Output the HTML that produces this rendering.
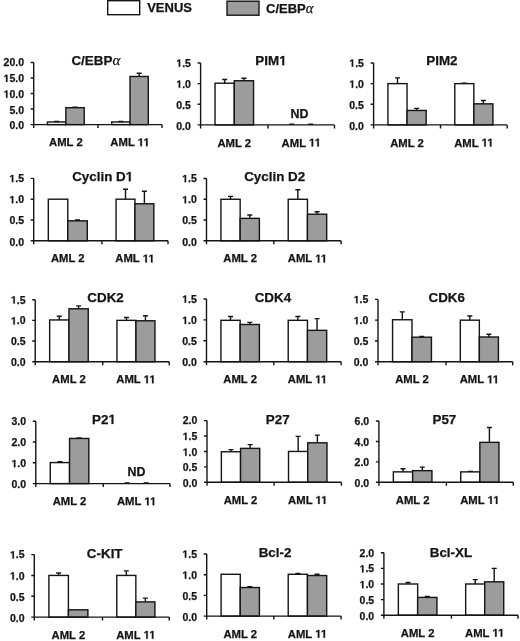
<!DOCTYPE html>
<html><head><meta charset="utf-8"><style>
html,body{margin:0;padding:0;background:#fff;width:520px;height:641px;overflow:hidden}
svg{display:block;will-change:transform;filter:blur(0.35px)}
text{font-family:"Liberation Sans",sans-serif;font-weight:bold;fill:#141414;stroke:#141414;stroke-width:0.25px}
.tk{font-size:10.5px;text-anchor:end}
.xl{font-size:11.3px;text-anchor:middle}
.nd{font-size:12.4px;text-anchor:middle}
.ti{font-size:13.4px;text-anchor:middle}
.ts{text-anchor:start}
.lg{font-size:13px}
.o{fill:transparent;stroke:transparent}
.al{font-family:"Liberation Serif",serif;font-weight:normal;font-style:italic;font-size:1.12em}
</style></head><body>
<svg width="520" height="641" viewBox="0 0 520 641">
<rect x="107.7" y="0.7" width="32" height="14" fill="#fff" stroke="#141414" stroke-width="1.4"/>
<text x="147.2" y="11.8" class="lg">VENUS</text>
<rect x="227" y="1.2" width="32" height="14" fill="#9c9c9c" stroke="#141414" stroke-width="1.4"/>
<text x="266" y="12.6" class="lg">C/EBP<tspan class="al">&#945;</tspan></text>
<rect x="47.48" y="121.96" width="18.37" height="2.64" fill="#fff" stroke="#141414" stroke-width="1.4"/>
<path d="M56.66 121.96V121.49M54.16 121.49H59.16" stroke="#141414" stroke-width="1.4" fill="none"/>
<rect x="65.85" y="107.68" width="18.37" height="16.92" fill="#9c9c9c" stroke="#141414" stroke-width="1.4"/>
<path d="M75.04 107.68V107.21M72.54 107.21H77.54" stroke="#141414" stroke-width="1.4" fill="none"/>
<rect x="111.71" y="121.96" width="18.29" height="2.64" fill="#fff" stroke="#141414" stroke-width="1.4"/>
<path d="M120.86 121.96V121.49M118.36 121.49H123.36" stroke="#141414" stroke-width="1.4" fill="none"/>
<rect x="130" y="76.47" width="18.29" height="48.13" fill="#9c9c9c" stroke="#141414" stroke-width="1.4"/>
<path d="M139.14 76.47V73.21M136.64 73.21H141.64" stroke="#141414" stroke-width="1.4" fill="none"/>
<path d="M33.7 62.5V128.1M30.7 62.5H33.7M30.7 78.03H33.7M30.7 93.55H33.7M30.7 109.07H33.7M30.7 124.6H33.7M33.7 124.6H162M98 124.6V128.1M162 124.6V128.1" stroke="#141414" stroke-width="1.4" fill="none"/>
<text x="24" y="129.3" class="tk">0.0</text>
<text x="24" y="113.55" class="tk">5.0</text>
<text x="24" y="97.8" class="tk"><tspan class="o">1</tspan>0.0</text>
<text x="24" y="82.05" class="tk"><tspan class="o">1</tspan>5.0</text>
<text x="24" y="66.3" class="tk">20.0</text>
<text x="65.85" y="146.2" class="xl">AML 2</text>
<text x="130" y="146.2" class="xl">AML <tspan class="o">1</tspan><tspan class="o">1</tspan></text>
<text x="95.85" y="65.2" class="ti">C/EBP<tspan class="al">&#945;</tspan></text>
<rect x="215.04" y="83.22" width="19.26" height="41.68" fill="#fff" stroke="#141414" stroke-width="1.4"/>
<path d="M224.67 83.22V79.51M222.17 79.51H227.17" stroke="#141414" stroke-width="1.4" fill="none"/>
<rect x="234.3" y="80.74" width="19.26" height="44.16" fill="#9c9c9c" stroke="#141414" stroke-width="1.4"/>
<path d="M243.93 80.74V78.27M241.43 78.27H246.43" stroke="#141414" stroke-width="1.4" fill="none"/>
<path d="M289.25 124.2H294.25" stroke="#141414" stroke-width="1.4" fill="none"/>
<path d="M308.25 124.2H313.25" stroke="#141414" stroke-width="1.4" fill="none"/>
<path d="M200.6 63V128.4M197.6 63H200.6M197.6 83.63H200.6M197.6 104.27H200.6M197.6 124.9H200.6M200.6 124.9H334.5M268 124.9V128.4M334.5 124.9V128.4" stroke="#141414" stroke-width="1.4" fill="none"/>
<text x="190.9" y="129.6" class="tk">0.0</text>
<text x="190.9" y="108.67" class="tk">0.5</text>
<text x="190.9" y="87.73" class="tk"><tspan class="o">1</tspan>.0</text>
<text x="190.9" y="66.8" class="tk"><tspan class="o">1</tspan>.5</text>
<text x="234.3" y="146.5" class="xl">AML 2</text>
<text x="301.25" y="146.5" class="xl">AML <tspan class="o">1</tspan><tspan class="o">1</tspan></text>
<text x="299.4" y="118" class="nd">ND</text>
<text x="271" y="65.3" class="ti">PIM<tspan class="o">1</tspan></text>
<rect x="387.94" y="83.63" width="19.11" height="41.27" fill="#fff" stroke="#141414" stroke-width="1.4"/>
<path d="M397.49 83.63V77.86M394.99 77.86H399.99" stroke="#141414" stroke-width="1.4" fill="none"/>
<rect x="407.05" y="110.46" width="19.11" height="14.44" fill="#9c9c9c" stroke="#141414" stroke-width="1.4"/>
<path d="M416.61 110.46V108.39M414.11 108.39H419.11" stroke="#141414" stroke-width="1.4" fill="none"/>
<rect x="454.79" y="83.63" width="19.06" height="41.27" fill="#fff" stroke="#141414" stroke-width="1.4"/>
<path d="M464.32 83.63V83.22M461.82 83.22H466.82" stroke="#141414" stroke-width="1.4" fill="none"/>
<rect x="473.85" y="103.85" width="19.06" height="21.05" fill="#9c9c9c" stroke="#141414" stroke-width="1.4"/>
<path d="M483.38 103.85V100.55M480.88 100.55H485.88" stroke="#141414" stroke-width="1.4" fill="none"/>
<path d="M373.6 63V128.4M370.6 63H373.6M370.6 83.63H373.6M370.6 104.27H373.6M370.6 124.9H373.6M373.6 124.9H507.2M440.5 124.9V128.4M507.2 124.9V128.4" stroke="#141414" stroke-width="1.4" fill="none"/>
<text x="363.9" y="129.6" class="tk">0.0</text>
<text x="363.9" y="108.67" class="tk">0.5</text>
<text x="363.9" y="87.73" class="tk"><tspan class="o">1</tspan>.0</text>
<text x="363.9" y="66.8" class="tk"><tspan class="o">1</tspan>.5</text>
<text x="407.05" y="146.5" class="xl">AML 2</text>
<text x="473.85" y="146.5" class="xl">AML <tspan class="o">1</tspan><tspan class="o">1</tspan></text>
<text x="441.95" y="65.1" class="ti">PIM2</text>
<rect x="48.31" y="199.2" width="19.49" height="41.6" fill="#fff" stroke="#141414" stroke-width="1.4"/>
<rect x="67.8" y="220.83" width="19.49" height="19.97" fill="#9c9c9c" stroke="#141414" stroke-width="1.4"/>
<path d="M77.54 220.83V220M75.04 220H80.04" stroke="#141414" stroke-width="1.4" fill="none"/>
<rect x="116.06" y="199.2" width="18.89" height="41.6" fill="#fff" stroke="#141414" stroke-width="1.4"/>
<path d="M125.51 199.2V189.22M123.01 189.22H128.01" stroke="#141414" stroke-width="1.4" fill="none"/>
<rect x="134.95" y="203.78" width="18.89" height="37.02" fill="#9c9c9c" stroke="#141414" stroke-width="1.4"/>
<path d="M144.39 203.78V191.3M141.89 191.3H146.89" stroke="#141414" stroke-width="1.4" fill="none"/>
<path d="M33.7 178.4V244.3M30.7 178.4H33.7M30.7 199.2H33.7M30.7 220H33.7M30.7 240.8H33.7M33.7 240.8H168M101.9 240.8V244.3M168 240.8V244.3" stroke="#141414" stroke-width="1.4" fill="none"/>
<text x="24" y="245.5" class="tk">0.0</text>
<text x="24" y="224.4" class="tk">0.5</text>
<text x="24" y="203.3" class="tk"><tspan class="o">1</tspan>.0</text>
<text x="24" y="182.2" class="tk"><tspan class="o">1</tspan>.5</text>
<text x="67.8" y="262.4" class="xl">AML 2</text>
<text x="134.95" y="262.4" class="xl">AML <tspan class="o">1</tspan><tspan class="o">1</tspan></text>
<text x="102.65" y="181.2" class="ti">Cyclin D<tspan class="o">1</tspan></text>
<rect x="220.92" y="199.27" width="19.23" height="41.53" fill="#fff" stroke="#141414" stroke-width="1.4"/>
<path d="M230.54 199.27V196.36M228.04 196.36H233.04" stroke="#141414" stroke-width="1.4" fill="none"/>
<rect x="240.15" y="218.37" width="19.23" height="22.43" fill="#9c9c9c" stroke="#141414" stroke-width="1.4"/>
<path d="M249.76 218.37V215.05M247.26 215.05H252.26" stroke="#141414" stroke-width="1.4" fill="none"/>
<rect x="288.22" y="199.27" width="19.23" height="41.53" fill="#fff" stroke="#141414" stroke-width="1.4"/>
<path d="M297.84 199.27V189.71M295.34 189.71H300.34" stroke="#141414" stroke-width="1.4" fill="none"/>
<rect x="307.45" y="214.22" width="19.23" height="26.58" fill="#9c9c9c" stroke="#141414" stroke-width="1.4"/>
<path d="M317.06 214.22V211.73M314.56 211.73H319.56" stroke="#141414" stroke-width="1.4" fill="none"/>
<path d="M206.5 178.5V244.3M203.5 178.5H206.5M203.5 199.27H206.5M203.5 220.03H206.5M203.5 240.8H206.5M206.5 240.8H341.1M273.8 240.8V244.3M341.1 240.8V244.3" stroke="#141414" stroke-width="1.4" fill="none"/>
<text x="196.8" y="245.5" class="tk">0.0</text>
<text x="196.8" y="224.43" class="tk">0.5</text>
<text x="196.8" y="203.37" class="tk"><tspan class="o">1</tspan>.0</text>
<text x="196.8" y="182.3" class="tk"><tspan class="o">1</tspan>.5</text>
<text x="240.15" y="262.4" class="xl">AML 2</text>
<text x="307.45" y="262.4" class="xl">AML <tspan class="o">1</tspan><tspan class="o">1</tspan></text>
<text x="274.7" y="181.2" class="ti">Cyclin D2</text>
<rect x="49.66" y="319.95" width="19.29" height="41.75" fill="#fff" stroke="#141414" stroke-width="1.4"/>
<path d="M59.31 319.95V316.23M56.81 316.23H61.81" stroke="#141414" stroke-width="1.4" fill="none"/>
<rect x="68.95" y="308.79" width="19.29" height="52.91" fill="#9c9c9c" stroke="#141414" stroke-width="1.4"/>
<path d="M78.59 308.79V305.9M76.09 305.9H81.09" stroke="#141414" stroke-width="1.4" fill="none"/>
<rect x="116.95" y="320.37" width="19" height="41.33" fill="#fff" stroke="#141414" stroke-width="1.4"/>
<path d="M126.45 320.37V317.47M123.95 317.47H128.95" stroke="#141414" stroke-width="1.4" fill="none"/>
<rect x="135.95" y="320.78" width="19" height="40.92" fill="#9c9c9c" stroke="#141414" stroke-width="1.4"/>
<path d="M145.45 320.78V315.82M142.95 315.82H147.95" stroke="#141414" stroke-width="1.4" fill="none"/>
<path d="M35.2 299.7V365.2M32.2 299.7H35.2M32.2 320.37H35.2M32.2 341.03H35.2M32.2 361.7H35.2M35.2 361.7H169.2M102.7 361.7V365.2M169.2 361.7V365.2" stroke="#141414" stroke-width="1.4" fill="none"/>
<text x="25.5" y="366.4" class="tk">0.0</text>
<text x="25.5" y="345.43" class="tk">0.5</text>
<text x="25.5" y="324.47" class="tk"><tspan class="o">1</tspan>.0</text>
<text x="25.5" y="303.5" class="tk"><tspan class="o">1</tspan>.5</text>
<text x="68.95" y="383.3" class="xl">AML 2</text>
<text x="135.95" y="383.3" class="xl">AML <tspan class="o">1</tspan><tspan class="o">1</tspan></text>
<text x="105.55" y="302.1" class="ti">CDK2</text>
<rect x="220.92" y="320.32" width="19.23" height="41.38" fill="#fff" stroke="#141414" stroke-width="1.4"/>
<path d="M230.54 320.32V316.56M228.04 316.56H233.04" stroke="#141414" stroke-width="1.4" fill="none"/>
<rect x="240.15" y="324.5" width="19.23" height="37.2" fill="#9c9c9c" stroke="#141414" stroke-width="1.4"/>
<path d="M249.76 324.5V322.41M247.26 322.41H252.26" stroke="#141414" stroke-width="1.4" fill="none"/>
<rect x="288.22" y="320.32" width="19.23" height="41.38" fill="#fff" stroke="#141414" stroke-width="1.4"/>
<path d="M297.84 320.32V316.56M295.34 316.56H300.34" stroke="#141414" stroke-width="1.4" fill="none"/>
<rect x="307.45" y="330.35" width="19.23" height="31.35" fill="#9c9c9c" stroke="#141414" stroke-width="1.4"/>
<path d="M317.06 330.35V318.65M314.56 318.65H319.56" stroke="#141414" stroke-width="1.4" fill="none"/>
<path d="M206.5 299V365.2M203.5 299H206.5M203.5 319.9H206.5M203.5 340.8H206.5M203.5 361.7H206.5M206.5 361.7H341.1M273.8 361.7V365.2M341.1 361.7V365.2" stroke="#141414" stroke-width="1.4" fill="none"/>
<text x="196.8" y="366.4" class="tk">0.0</text>
<text x="196.8" y="345.2" class="tk">0.5</text>
<text x="196.8" y="324" class="tk"><tspan class="o">1</tspan>.0</text>
<text x="196.8" y="302.8" class="tk"><tspan class="o">1</tspan>.5</text>
<text x="240.15" y="383.3" class="xl">AML 2</text>
<text x="307.45" y="383.3" class="xl">AML <tspan class="o">1</tspan><tspan class="o">1</tspan></text>
<text x="272.95" y="302.3" class="ti">CDK4</text>
<rect x="392.57" y="319.75" width="19.43" height="41.95" fill="#fff" stroke="#141414" stroke-width="1.4"/>
<path d="M402.29 319.75V311.86M399.79 311.86H404.79" stroke="#141414" stroke-width="1.4" fill="none"/>
<rect x="412" y="337.2" width="19.43" height="24.5" fill="#9c9c9c" stroke="#141414" stroke-width="1.4"/>
<path d="M421.71 337.2V336.36M419.21 336.36H424.21" stroke="#141414" stroke-width="1.4" fill="none"/>
<rect x="460.29" y="320.17" width="19.06" height="41.53" fill="#fff" stroke="#141414" stroke-width="1.4"/>
<path d="M469.82 320.17V316.01M467.32 316.01H472.32" stroke="#141414" stroke-width="1.4" fill="none"/>
<rect x="479.35" y="336.99" width="19.06" height="24.71" fill="#9c9c9c" stroke="#141414" stroke-width="1.4"/>
<path d="M488.88 336.99V334.29M486.38 334.29H491.38" stroke="#141414" stroke-width="1.4" fill="none"/>
<path d="M378 299.4V365.2M375 299.4H378M375 320.17H378M375 340.93H378M375 361.7H378M378 361.7H512.7M446 361.7V365.2M512.7 361.7V365.2" stroke="#141414" stroke-width="1.4" fill="none"/>
<text x="368.3" y="366.4" class="tk">0.0</text>
<text x="368.3" y="345.33" class="tk">0.5</text>
<text x="368.3" y="324.27" class="tk"><tspan class="o">1</tspan>.0</text>
<text x="368.3" y="303.2" class="tk"><tspan class="o">1</tspan>.5</text>
<text x="412" y="383.3" class="xl">AML 2</text>
<text x="479.35" y="383.3" class="xl">AML <tspan class="o">1</tspan><tspan class="o">1</tspan></text>
<text x="446.75" y="302.1" class="ti">CDK6</text>
<rect x="50.26" y="462.59" width="19.29" height="21.01" fill="#fff" stroke="#141414" stroke-width="1.4"/>
<path d="M59.91 462.59V461.76M57.41 461.76H62.41" stroke="#141414" stroke-width="1.4" fill="none"/>
<rect x="69.55" y="438.46" width="19.29" height="45.14" fill="#9c9c9c" stroke="#141414" stroke-width="1.4"/>
<path d="M79.19 438.46V437.84M76.69 437.84H81.69" stroke="#141414" stroke-width="1.4" fill="none"/>
<path d="M124.62 482.9H129.62" stroke="#141414" stroke-width="1.4" fill="none"/>
<path d="M143.68 482.9H148.68" stroke="#141414" stroke-width="1.4" fill="none"/>
<path d="M35.8 421.2V487.1M32.8 421.2H35.8M32.8 442H35.8M32.8 462.8H35.8M32.8 483.6H35.8M35.8 483.6H170M103.3 483.6V487.1M170 483.6V487.1" stroke="#141414" stroke-width="1.4" fill="none"/>
<text x="26.1" y="488.3" class="tk">0.0</text>
<text x="26.1" y="467.2" class="tk"><tspan class="o">1</tspan>.0</text>
<text x="26.1" y="446.1" class="tk">2.0</text>
<text x="26.1" y="425" class="tk">3.0</text>
<text x="69.55" y="505.2" class="xl">AML 2</text>
<text x="136.65" y="505.2" class="xl">AML <tspan class="o">1</tspan><tspan class="o">1</tspan></text>
<text x="136.4" y="475.8" class="nd">ND</text>
<text x="103.95" y="423.9" class="ti">P2<tspan class="o">1</tspan></text>
<rect x="221.38" y="451.76" width="19.17" height="30.54" fill="#fff" stroke="#141414" stroke-width="1.4"/>
<path d="M230.96 451.76V449.6M228.46 449.6H233.46" stroke="#141414" stroke-width="1.4" fill="none"/>
<rect x="240.55" y="448.37" width="19.17" height="33.94" fill="#9c9c9c" stroke="#141414" stroke-width="1.4"/>
<path d="M250.14 448.37V444.66M247.64 444.66H252.64" stroke="#141414" stroke-width="1.4" fill="none"/>
<rect x="288.52" y="451.45" width="19.23" height="30.85" fill="#fff" stroke="#141414" stroke-width="1.4"/>
<path d="M298.14 451.45V436.33M295.64 436.33H300.64" stroke="#141414" stroke-width="1.4" fill="none"/>
<rect x="307.75" y="442.81" width="19.23" height="39.49" fill="#9c9c9c" stroke="#141414" stroke-width="1.4"/>
<path d="M317.36 442.81V435.1M314.86 435.1H319.86" stroke="#141414" stroke-width="1.4" fill="none"/>
<path d="M207 420.6V485.8M204 420.6H207M204 436.03H207M204 451.45H207M204 466.88H207M204 482.3H207M207 482.3H341.4M274.1 482.3V485.8M341.4 482.3V485.8" stroke="#141414" stroke-width="1.4" fill="none"/>
<text x="197.3" y="487" class="tk">0.0</text>
<text x="197.3" y="471.35" class="tk">0.5</text>
<text x="197.3" y="455.7" class="tk"><tspan class="o">1</tspan>.0</text>
<text x="197.3" y="440.05" class="tk"><tspan class="o">1</tspan>.5</text>
<text x="197.3" y="424.4" class="tk">2.0</text>
<text x="240.55" y="503.9" class="xl">AML 2</text>
<text x="307.75" y="503.9" class="xl">AML <tspan class="o">1</tspan><tspan class="o">1</tspan></text>
<text x="277.75" y="423.7" class="ti">P27</text>
<rect x="393.36" y="471.88" width="19.29" height="10.42" fill="#fff" stroke="#141414" stroke-width="1.4"/>
<path d="M403.01 471.88V468.71M400.51 468.71H405.51" stroke="#141414" stroke-width="1.4" fill="none"/>
<rect x="412.65" y="470.65" width="19.29" height="11.65" fill="#9c9c9c" stroke="#141414" stroke-width="1.4"/>
<path d="M422.29 470.65V467.08M419.79 467.08H424.79" stroke="#141414" stroke-width="1.4" fill="none"/>
<rect x="460.74" y="471.88" width="19.11" height="10.42" fill="#fff" stroke="#141414" stroke-width="1.4"/>
<path d="M470.29 471.88V471.37M467.79 471.37H472.79" stroke="#141414" stroke-width="1.4" fill="none"/>
<rect x="479.85" y="442.35" width="19.11" height="39.95" fill="#9c9c9c" stroke="#141414" stroke-width="1.4"/>
<path d="M489.41 442.35V427.54M486.91 427.54H491.91" stroke="#141414" stroke-width="1.4" fill="none"/>
<path d="M378.9 421V485.8M375.9 421H378.9M375.9 441.43H378.9M375.9 461.87H378.9M375.9 482.3H378.9M378.9 482.3H513.3M446.4 482.3V485.8M513.3 482.3V485.8" stroke="#141414" stroke-width="1.4" fill="none"/>
<text x="369.2" y="487" class="tk">0.0</text>
<text x="369.2" y="466.27" class="tk">2.0</text>
<text x="369.2" y="445.53" class="tk">4.0</text>
<text x="369.2" y="424.8" class="tk">6.0</text>
<text x="412.65" y="503.9" class="xl">AML 2</text>
<text x="479.85" y="503.9" class="xl">AML <tspan class="o">1</tspan><tspan class="o">1</tspan></text>
<text x="444.4" y="423.7" class="ti">P57</text>
<rect x="48.91" y="575.43" width="19.49" height="41.67" fill="#fff" stroke="#141414" stroke-width="1.4"/>
<path d="M58.66 575.43V572.93M56.16 572.93H61.16" stroke="#141414" stroke-width="1.4" fill="none"/>
<rect x="68.4" y="609.81" width="19.49" height="7.29" fill="#9c9c9c" stroke="#141414" stroke-width="1.4"/>
<rect x="116.79" y="575.43" width="19.06" height="41.67" fill="#fff" stroke="#141414" stroke-width="1.4"/>
<path d="M126.32 575.43V570.85M123.82 570.85H128.82" stroke="#141414" stroke-width="1.4" fill="none"/>
<rect x="135.85" y="601.89" width="19.06" height="15.21" fill="#9c9c9c" stroke="#141414" stroke-width="1.4"/>
<path d="M145.38 601.89V598.14M142.88 598.14H147.88" stroke="#141414" stroke-width="1.4" fill="none"/>
<path d="M34.3 554.6V620.6M31.3 554.6H34.3M31.3 575.43H34.3M31.3 596.27H34.3M31.3 617.1H34.3M34.3 617.1H169.2M102.5 617.1V620.6M169.2 617.1V620.6" stroke="#141414" stroke-width="1.4" fill="none"/>
<text x="24.6" y="621.8" class="tk">0.0</text>
<text x="24.6" y="600.67" class="tk">0.5</text>
<text x="24.6" y="579.53" class="tk"><tspan class="o">1</tspan>.0</text>
<text x="24.6" y="558.4" class="tk"><tspan class="o">1</tspan>.5</text>
<text x="68.4" y="638.7" class="xl">AML 2</text>
<text x="135.85" y="638.7" class="xl">AML <tspan class="o">1</tspan><tspan class="o">1</tspan></text>
<text x="104.7" y="557.9" class="ti">C-KIT</text>
<rect x="221.08" y="574.29" width="19.17" height="41.81" fill="#fff" stroke="#141414" stroke-width="1.4"/>
<rect x="240.25" y="587.53" width="19.17" height="28.57" fill="#9c9c9c" stroke="#141414" stroke-width="1.4"/>
<path d="M249.84 587.53V586.71M247.34 586.71H252.34" stroke="#141414" stroke-width="1.4" fill="none"/>
<rect x="288.22" y="574.29" width="19.23" height="41.81" fill="#fff" stroke="#141414" stroke-width="1.4"/>
<path d="M297.84 574.29V573.46M295.34 573.46H300.34" stroke="#141414" stroke-width="1.4" fill="none"/>
<rect x="307.45" y="575.53" width="19.23" height="40.57" fill="#9c9c9c" stroke="#141414" stroke-width="1.4"/>
<path d="M317.06 575.53V574.29M314.56 574.29H319.56" stroke="#141414" stroke-width="1.4" fill="none"/>
<path d="M206.7 554V619.6M203.7 554H206.7M203.7 574.7H206.7M203.7 595.4H206.7M203.7 616.1H206.7M206.7 616.1H341.1M273.8 616.1V619.6M341.1 616.1V619.6" stroke="#141414" stroke-width="1.4" fill="none"/>
<text x="197" y="620.8" class="tk">0.0</text>
<text x="197" y="599.8" class="tk">0.5</text>
<text x="197" y="578.8" class="tk"><tspan class="o">1</tspan>.0</text>
<text x="197" y="557.8" class="tk"><tspan class="o">1</tspan>.5</text>
<text x="240.25" y="637.7" class="xl">AML 2</text>
<text x="307.45" y="637.7" class="xl">AML <tspan class="o">1</tspan><tspan class="o">1</tspan></text>
<text x="275" y="557.2" class="ti">Bcl-2</text>
<rect x="398.36" y="584" width="19.29" height="31.2" fill="#fff" stroke="#141414" stroke-width="1.4"/>
<path d="M408.01 584V582.44M405.51 582.44H410.51" stroke="#141414" stroke-width="1.4" fill="none"/>
<rect x="417.65" y="597.42" width="19.29" height="17.78" fill="#9c9c9c" stroke="#141414" stroke-width="1.4"/>
<path d="M427.29 597.42V596.48M424.79 596.48H429.79" stroke="#141414" stroke-width="1.4" fill="none"/>
<rect x="465.67" y="584" width="19.03" height="31.2" fill="#fff" stroke="#141414" stroke-width="1.4"/>
<path d="M475.19 584V579.63M472.69 579.63H477.69" stroke="#141414" stroke-width="1.4" fill="none"/>
<rect x="484.7" y="581.82" width="19.03" height="33.38" fill="#9c9c9c" stroke="#141414" stroke-width="1.4"/>
<path d="M494.21 581.82V568.4M491.71 568.4H496.71" stroke="#141414" stroke-width="1.4" fill="none"/>
<path d="M383.9 552.8V618.7M380.9 552.8H383.9M380.9 568.4H383.9M380.9 584H383.9M380.9 599.6H383.9M380.9 615.2H383.9M383.9 615.2H518M451.4 615.2V618.7M518 615.2V618.7" stroke="#141414" stroke-width="1.4" fill="none"/>
<text x="374.2" y="619.9" class="tk">0.0</text>
<text x="374.2" y="604.08" class="tk">0.5</text>
<text x="374.2" y="588.25" class="tk"><tspan class="o">1</tspan>.0</text>
<text x="374.2" y="572.43" class="tk"><tspan class="o">1</tspan>.5</text>
<text x="374.2" y="556.6" class="tk">2.0</text>
<text x="417.65" y="636.8" class="xl">AML 2</text>
<text x="484.7" y="636.8" class="xl">AML <tspan class="o">1</tspan><tspan class="o">1</tspan></text>
<text x="450.95" y="557.4" class="ti">Bcl-XL</text>
<g id="ones" fill="#141414" stroke="#141414" stroke-width="0.25" vector-effect="non-scaling-stroke"><path d="M478 0V1170L140 959V1180L493 1409H759V0Z" transform="matrix(0.00513 0 0 -0.00513 3.55 97.80)" vector-effect="non-scaling-stroke"/><path d="M478 0V1170L140 959V1180L493 1409H759V0Z" transform="matrix(0.00513 0 0 -0.00513 3.55 82.05)" vector-effect="non-scaling-stroke"/><path d="M478 0V1170L140 959V1180L493 1409H759V0Z" transform="matrix(0.00552 0 0 -0.00552 137.72 146.20)" vector-effect="non-scaling-stroke"/><path d="M478 0V1170L140 959V1180L493 1409H759V0Z" transform="matrix(0.00552 0 0 -0.00552 143.39 146.20)" vector-effect="non-scaling-stroke"/><path d="M478 0V1170L140 959V1180L493 1409H759V0Z" transform="matrix(0.00513 0 0 -0.00513 176.29 87.73)" vector-effect="non-scaling-stroke"/><path d="M478 0V1170L140 959V1180L493 1409H759V0Z" transform="matrix(0.00513 0 0 -0.00513 176.29 66.80)" vector-effect="non-scaling-stroke"/><path d="M478 0V1170L140 959V1180L493 1409H759V0Z" transform="matrix(0.00552 0 0 -0.00552 308.97 146.50)" vector-effect="non-scaling-stroke"/><path d="M478 0V1170L140 959V1180L493 1409H759V0Z" transform="matrix(0.00552 0 0 -0.00552 314.64 146.50)" vector-effect="non-scaling-stroke"/><path d="M478 0V1170L140 959V1180L493 1409H759V0Z" transform="matrix(0.00654 0 0 -0.00654 279.18 65.30)" vector-effect="non-scaling-stroke"/><path d="M478 0V1170L140 959V1180L493 1409H759V0Z" transform="matrix(0.00513 0 0 -0.00513 349.29 87.73)" vector-effect="non-scaling-stroke"/><path d="M478 0V1170L140 959V1180L493 1409H759V0Z" transform="matrix(0.00513 0 0 -0.00513 349.29 66.80)" vector-effect="non-scaling-stroke"/><path d="M478 0V1170L140 959V1180L493 1409H759V0Z" transform="matrix(0.00552 0 0 -0.00552 481.57 146.50)" vector-effect="non-scaling-stroke"/><path d="M478 0V1170L140 959V1180L493 1409H759V0Z" transform="matrix(0.00552 0 0 -0.00552 487.24 146.50)" vector-effect="non-scaling-stroke"/><path d="M478 0V1170L140 959V1180L493 1409H759V0Z" transform="matrix(0.00513 0 0 -0.00513 9.39 203.30)" vector-effect="non-scaling-stroke"/><path d="M478 0V1170L140 959V1180L493 1409H759V0Z" transform="matrix(0.00513 0 0 -0.00513 9.39 182.20)" vector-effect="non-scaling-stroke"/><path d="M478 0V1170L140 959V1180L493 1409H759V0Z" transform="matrix(0.00552 0 0 -0.00552 142.67 262.40)" vector-effect="non-scaling-stroke"/><path d="M478 0V1170L140 959V1180L493 1409H759V0Z" transform="matrix(0.00552 0 0 -0.00552 148.34 262.40)" vector-effect="non-scaling-stroke"/><path d="M478 0V1170L140 959V1180L493 1409H759V0Z" transform="matrix(0.00654 0 0 -0.00654 125.71 181.20)" vector-effect="non-scaling-stroke"/><path d="M478 0V1170L140 959V1180L493 1409H759V0Z" transform="matrix(0.00513 0 0 -0.00513 182.19 203.37)" vector-effect="non-scaling-stroke"/><path d="M478 0V1170L140 959V1180L493 1409H759V0Z" transform="matrix(0.00513 0 0 -0.00513 182.19 182.30)" vector-effect="non-scaling-stroke"/><path d="M478 0V1170L140 959V1180L493 1409H759V0Z" transform="matrix(0.00552 0 0 -0.00552 315.17 262.40)" vector-effect="non-scaling-stroke"/><path d="M478 0V1170L140 959V1180L493 1409H759V0Z" transform="matrix(0.00552 0 0 -0.00552 320.84 262.40)" vector-effect="non-scaling-stroke"/><path d="M478 0V1170L140 959V1180L493 1409H759V0Z" transform="matrix(0.00513 0 0 -0.00513 10.89 324.47)" vector-effect="non-scaling-stroke"/><path d="M478 0V1170L140 959V1180L493 1409H759V0Z" transform="matrix(0.00513 0 0 -0.00513 10.89 303.50)" vector-effect="non-scaling-stroke"/><path d="M478 0V1170L140 959V1180L493 1409H759V0Z" transform="matrix(0.00552 0 0 -0.00552 143.67 383.30)" vector-effect="non-scaling-stroke"/><path d="M478 0V1170L140 959V1180L493 1409H759V0Z" transform="matrix(0.00552 0 0 -0.00552 149.34 383.30)" vector-effect="non-scaling-stroke"/><path d="M478 0V1170L140 959V1180L493 1409H759V0Z" transform="matrix(0.00513 0 0 -0.00513 182.19 324.00)" vector-effect="non-scaling-stroke"/><path d="M478 0V1170L140 959V1180L493 1409H759V0Z" transform="matrix(0.00513 0 0 -0.00513 182.19 302.80)" vector-effect="non-scaling-stroke"/><path d="M478 0V1170L140 959V1180L493 1409H759V0Z" transform="matrix(0.00552 0 0 -0.00552 315.17 383.30)" vector-effect="non-scaling-stroke"/><path d="M478 0V1170L140 959V1180L493 1409H759V0Z" transform="matrix(0.00552 0 0 -0.00552 320.84 383.30)" vector-effect="non-scaling-stroke"/><path d="M478 0V1170L140 959V1180L493 1409H759V0Z" transform="matrix(0.00513 0 0 -0.00513 353.69 324.27)" vector-effect="non-scaling-stroke"/><path d="M478 0V1170L140 959V1180L493 1409H759V0Z" transform="matrix(0.00513 0 0 -0.00513 353.69 303.20)" vector-effect="non-scaling-stroke"/><path d="M478 0V1170L140 959V1180L493 1409H759V0Z" transform="matrix(0.00552 0 0 -0.00552 487.07 383.30)" vector-effect="non-scaling-stroke"/><path d="M478 0V1170L140 959V1180L493 1409H759V0Z" transform="matrix(0.00552 0 0 -0.00552 492.74 383.30)" vector-effect="non-scaling-stroke"/><path d="M478 0V1170L140 959V1180L493 1409H759V0Z" transform="matrix(0.00513 0 0 -0.00513 11.49 467.20)" vector-effect="non-scaling-stroke"/><path d="M478 0V1170L140 959V1180L493 1409H759V0Z" transform="matrix(0.00552 0 0 -0.00552 144.37 505.20)" vector-effect="non-scaling-stroke"/><path d="M478 0V1170L140 959V1180L493 1409H759V0Z" transform="matrix(0.00552 0 0 -0.00552 150.04 505.20)" vector-effect="non-scaling-stroke"/><path d="M478 0V1170L140 959V1180L493 1409H759V0Z" transform="matrix(0.00654 0 0 -0.00654 108.42 423.90)" vector-effect="non-scaling-stroke"/><path d="M478 0V1170L140 959V1180L493 1409H759V0Z" transform="matrix(0.00513 0 0 -0.00513 182.69 455.70)" vector-effect="non-scaling-stroke"/><path d="M478 0V1170L140 959V1180L493 1409H759V0Z" transform="matrix(0.00513 0 0 -0.00513 182.69 440.05)" vector-effect="non-scaling-stroke"/><path d="M478 0V1170L140 959V1180L493 1409H759V0Z" transform="matrix(0.00552 0 0 -0.00552 315.47 503.90)" vector-effect="non-scaling-stroke"/><path d="M478 0V1170L140 959V1180L493 1409H759V0Z" transform="matrix(0.00552 0 0 -0.00552 321.14 503.90)" vector-effect="non-scaling-stroke"/><path d="M478 0V1170L140 959V1180L493 1409H759V0Z" transform="matrix(0.00552 0 0 -0.00552 487.57 503.90)" vector-effect="non-scaling-stroke"/><path d="M478 0V1170L140 959V1180L493 1409H759V0Z" transform="matrix(0.00552 0 0 -0.00552 493.24 503.90)" vector-effect="non-scaling-stroke"/><path d="M478 0V1170L140 959V1180L493 1409H759V0Z" transform="matrix(0.00513 0 0 -0.00513 9.99 579.53)" vector-effect="non-scaling-stroke"/><path d="M478 0V1170L140 959V1180L493 1409H759V0Z" transform="matrix(0.00513 0 0 -0.00513 9.99 558.40)" vector-effect="non-scaling-stroke"/><path d="M478 0V1170L140 959V1180L493 1409H759V0Z" transform="matrix(0.00552 0 0 -0.00552 143.57 638.70)" vector-effect="non-scaling-stroke"/><path d="M478 0V1170L140 959V1180L493 1409H759V0Z" transform="matrix(0.00552 0 0 -0.00552 149.24 638.70)" vector-effect="non-scaling-stroke"/><path d="M478 0V1170L140 959V1180L493 1409H759V0Z" transform="matrix(0.00513 0 0 -0.00513 182.39 578.80)" vector-effect="non-scaling-stroke"/><path d="M478 0V1170L140 959V1180L493 1409H759V0Z" transform="matrix(0.00513 0 0 -0.00513 182.39 557.80)" vector-effect="non-scaling-stroke"/><path d="M478 0V1170L140 959V1180L493 1409H759V0Z" transform="matrix(0.00552 0 0 -0.00552 315.17 637.70)" vector-effect="non-scaling-stroke"/><path d="M478 0V1170L140 959V1180L493 1409H759V0Z" transform="matrix(0.00552 0 0 -0.00552 320.84 637.70)" vector-effect="non-scaling-stroke"/><path d="M478 0V1170L140 959V1180L493 1409H759V0Z" transform="matrix(0.00513 0 0 -0.00513 359.59 588.25)" vector-effect="non-scaling-stroke"/><path d="M478 0V1170L140 959V1180L493 1409H759V0Z" transform="matrix(0.00513 0 0 -0.00513 359.59 572.43)" vector-effect="non-scaling-stroke"/><path d="M478 0V1170L140 959V1180L493 1409H759V0Z" transform="matrix(0.00552 0 0 -0.00552 492.42 636.80)" vector-effect="non-scaling-stroke"/><path d="M478 0V1170L140 959V1180L493 1409H759V0Z" transform="matrix(0.00552 0 0 -0.00552 498.09 636.80)" vector-effect="non-scaling-stroke"/></g>
</svg>
<script>
(function(){var g=document.getElementById('ones');if(!g)return;var ps=g.querySelectorAll('path'),k=0;
document.querySelectorAll('svg text').forEach(function(t){var s=t.textContent,fs=parseFloat(getComputedStyle(t).fontSize),sc=fs/2048;
for(var i=0;i<s.length;i++){if(s.charAt(i)==='1'){try{var p=t.getStartPositionOfChar(i),el=ps[k++];if(el)el.setAttribute('transform','matrix('+sc+' 0 0 '+(-sc)+' '+p.x+' '+p.y+')');}catch(e){}}}});})();
</script>
</body></html>
